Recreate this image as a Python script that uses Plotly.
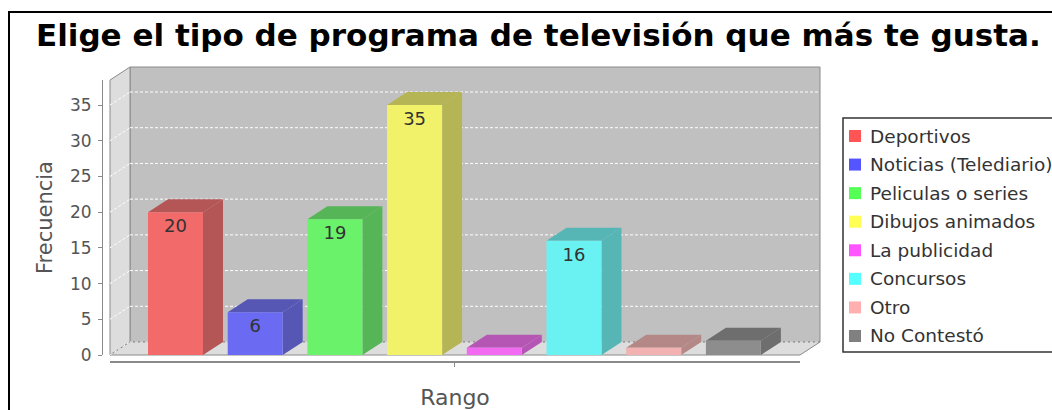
import plotly.graph_objects as go

# ---------------- data ----------------
TITLE = "Elige el tipo de programa de televisión que más te gusta."
CATEGORIES = ["Deportivos", "Noticias (Telediario)", "Peliculas o series",
              "Dibujos animados", "La publicidad", "Concursos", "Otro", "No Contestó"]
VALUES = [20, 6, 19, 35, 1, 16, 1, 2]
Y_TICKS = [0, 5, 10, 15, 20, 25, 30, 35]
Y_LABEL = "Frecuencia"
X_LABEL = "Rango"

# JFreeChart default series paints
PAINTS = ["#FF5555", "#5555FF", "#55FF55", "#FFFF55",
          "#FF55FF", "#55FFFF", "#FFAFAF", "#808080"]

# ---------------- geometry (pixels) ----------------
FIG_W, FIG_H = 1052, 410
PLOT_L, PLOT_R, PLOT_T, PLOT_B = 102, 800, 80, 362   # axis lines frame
FRONT_L, FRONT_B = 110, 355                           # front plane corner
DEPTH_X, DEPTH_Y = 20, 13                             # 3D offset
Y_MAX = 38.5
BAR_PITCH_PX, BAR_W_PX = 79.7, 55
FIRST_BAR_CENTER_PX = 175.5

W = PLOT_R - PLOT_L
H = PLOT_B - PLOT_T


def px(x):
    return (x - PLOT_L) / W


def py(y):
    return (PLOT_B - y) / H


PPU = (FRONT_B - PLOT_T) / Y_MAX         # pixels per value unit
DY = DEPTH_Y / PPU
DX = DEPTH_X / BAR_PITCH_PX
BAR_W = BAR_W_PX / BAR_PITCH_PX
X0 = -(FIRST_BAR_CENTER_PX - FRONT_L) / BAR_PITCH_PX
X1 = X0 + (PLOT_R - FRONT_L) / BAR_PITCH_PX


def hex2rgb(h):
    h = h.lstrip("#")
    return tuple(int(h[i:i + 2], 16) for i in (0, 2, 4))


def blend(rgb, bg=(192, 192, 192), a=0.8):
    return "rgb(%d,%d,%d)" % tuple(round(c * a + b * (1 - a)) for c, b in zip(rgb, bg))


def darker(rgb):
    return tuple(int(c * 0.7) for c in rgb)


FONT = "DejaVu Sans"
fig = go.Figure()

shapes = []
# outer frame
shapes.append(dict(type="rect", xref="paper", yref="paper",
                   x0=px(9), x1=px(1070), y0=py(12), y1=py(430),
                   line=dict(color="black", width=2), fillcolor="rgba(0,0,0,0)", layer="below"))

# walls
BL, BR = FRONT_L + DEPTH_X, PLOT_R + DEPTH_X
BT, BB = PLOT_T - DEPTH_Y, FRONT_B - DEPTH_Y
EDGE = dict(color="#8a8a8a", width=1)
shapes.append(dict(type="rect", xref="paper", yref="paper",
                   x0=px(BL), x1=px(BR), y0=py(BB), y1=py(BT),
                   fillcolor="#C0C0C0", line=EDGE, layer="below"))
shapes.append(dict(type="path", xref="paper", yref="paper",
                   path=f"M {px(FRONT_L)},{py(FRONT_B)} L {px(FRONT_L)},{py(PLOT_T)} "
                        f"L {px(BL)},{py(BT)} L {px(BL)},{py(BB)} Z",
                   fillcolor="#DDDDDD", line=EDGE, layer="below"))
shapes.append(dict(type="path", xref="paper", yref="paper",
                   path=f"M {px(FRONT_L)},{py(FRONT_B)} L {px(PLOT_R)},{py(FRONT_B)} "
                        f"L {px(BR)},{py(BB)} L {px(BL)},{py(BB)} Z",
                   fillcolor="#DDDDDD", line=EDGE, layer="below"))

# gridlines (back wall + left wall)
GRID = dict(color="white", width=1, dash="3px,2px")
for v in Y_TICKS:
    shapes.append(dict(type="line", xref="paper", yref="y",
                       x0=px(BL), x1=px(BR), y0=v + DY, y1=v + DY, line=GRID, layer="below"))
    shapes.append(dict(type="line", xref="paper", yref="y",
                       x0=px(FRONT_L), x1=px(BL), y0=v, y1=v + DY, line=GRID, layer="below"))

# bars: front faces are traces, side/top faces are shapes in data coords
for i, (cat, v, paint) in enumerate(zip(CATEGORIES, VALUES, PAINTS)):
    rgb = hex2rgb(paint)
    front = blend(rgb)
    side = blend(darker(rgb))
    xl, xr = i - BAR_W / 2, i + BAR_W / 2
    shapes.append(dict(type="path", xref="x", yref="y", layer="below",
                       path=f"M {xr},0 L {xr},{v} L {xr + DX},{v + DY} L {xr + DX},{DY} Z",
                       fillcolor=side, line=dict(width=0)))
    shapes.append(dict(type="path", xref="x", yref="y", layer="below",
                       path=f"M {xl},{v} L {xl + DX},{v + DY} L {xr + DX},{v + DY} L {xr},{v} Z",
                       fillcolor=side, line=dict(width=0)))
    fig.add_trace(go.Bar(
        x=[i], y=[v], width=BAR_W, name=cat, showlegend=False,
        marker=dict(color=front, line=dict(width=0)),
        text=[str(v)], textposition="inside", insidetextanchor="end",
        textfont=dict(family=FONT, size=18, color="#333333"),
        hovertemplate=f"{cat}: %{{y}}<extra></extra>",
    ))

# legend (drawn manually to match the boxed JFreeChart legend)
LEG_L, LEG_T, LEG_B = 843, 118, 352
LEG_FIRST, LEG_STEP = 136, 28.57
shapes.append(dict(type="rect", xref="paper", yref="paper",
                   x0=px(LEG_L), x1=px(1070), y0=py(LEG_B), y1=py(LEG_T),
                   line=dict(color="#333333", width=1.5), fillcolor="white", layer="below"))
annotations = []
for i, (cat, paint) in enumerate(zip(CATEGORIES, PAINTS)):
    cy = LEG_FIRST + i * LEG_STEP
    shapes.append(dict(type="rect", xref="paper", yref="paper",
                       x0=px(849), x1=px(861), y0=py(cy + 6), y1=py(cy - 6),
                       fillcolor=paint, line=dict(width=0), layer="below"))
    annotations.append(dict(xref="paper", yref="paper", x=px(868), y=py(cy),
                            xanchor="left", yanchor="middle", showarrow=False, text=cat,
                            font=dict(family=FONT, size=18.5, color="#333333")))

fig.update_layout(
    width=FIG_W, height=FIG_H,
    margin=dict(l=PLOT_L, r=FIG_W - PLOT_R, t=PLOT_T, b=FIG_H - PLOT_B, autoexpand=False),
    paper_bgcolor="white", plot_bgcolor="rgba(0,0,0,0)",
    title=dict(text=TITLE, x=36 / FIG_W, xanchor="left", xref="container",
               y=1 - 35 / FIG_H, yanchor="middle", yref="container",
               font=dict(family=FONT, size=31, color="black", weight="bold")),
    xaxis=dict(domain=[px(FRONT_L), 1], range=[X0, X1], anchor="free", position=0,
               showline=True, linecolor="#8a8a8a", linewidth=1.5,
               tickvals=[(len(VALUES) - 1) / 2], ticktext=[""], ticks="outside",
               ticklen=4, tickcolor="#8a8a8a", showgrid=False, zeroline=False,
               title=dict(text=X_LABEL, standoff=22,
                          font=dict(family=FONT, size=22, color="#555555"))),
    yaxis=dict(domain=[py(FRONT_B), 1], range=[0, Y_MAX], anchor="free", position=0,
               showline=True, linecolor="#8a8a8a", linewidth=1,
               tickvals=Y_TICKS, ticks="outside", ticklen=4, tickcolor="#8a8a8a",
               ticklabelstandoff=3,
               tickfont=dict(family=FONT, size=17, color="#555555"),
               showgrid=False, zeroline=False,
               title=dict(text=Y_LABEL, standoff=10,
                          font=dict(family=FONT, size=21, color="#555555"))),
    shapes=shapes, annotations=annotations,
    uniformtext=dict(minsize=18, mode="hide"),
    showlegend=False,
)

fig.write_html("out.html", config={"displayModeBar": False},
               post_script="document.body.style.margin = '0px';")
